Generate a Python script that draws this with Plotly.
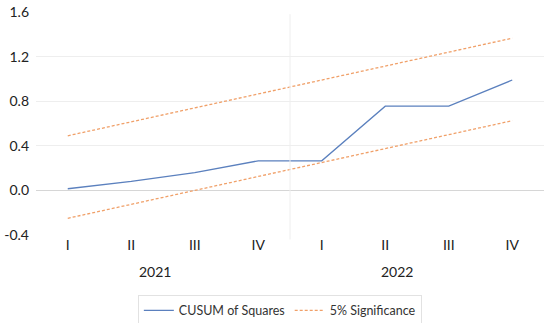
import plotly.graph_objects as go

quarters = ["I", "II", "III", "IV", "I ", "II ", "III ", "IV "]
quarter_labels = ["I", "II", "III", "IV", "I", "II", "III", "IV"]
years = ["2021", "2022"]
year_pos = [1.38, 5.19]
cusum = [0.015, 0.08, 0.16, 0.265, 0.265, 0.755, 0.755, 0.99]
upper = [0.49, 0.615, 0.74, 0.865, 0.99, 1.115, 1.24, 1.365]
lower = [-0.25, -0.125, 0.0, 0.125, 0.25, 0.375, 0.5, 0.625]
yticks = [-0.4, 0.0, 0.4, 0.8, 1.2, 1.6]

xs = list(range(len(quarters)))
FONT = "Lato"

fig = go.Figure()
fig.add_trace(go.Scatter(x=xs, y=cusum, mode="lines", name="CUSUM of Squares",
                         line=dict(color="#5B80BE", width=1.3)))
fig.add_trace(go.Scatter(x=xs, y=upper, mode="lines", name="5% Significance",
                         line=dict(color="#F0A069", width=1.3, dash="3px,2px")))
fig.add_trace(go.Scatter(x=xs, y=lower, mode="lines", name="5% Significance",
                         showlegend=False,
                         line=dict(color="#F0A069", width=1.3, dash="3px,2px")))

# year divider
fig.add_shape(type="line", xref="x", yref="paper", x0=3.5, x1=3.5, y0=-0.02, y1=0.99,
              line=dict(color="#EEEEEE", width=1))

for yr, p in zip(years, year_pos):
    fig.add_annotation(x=p, y=-0.165, xref="x", yref="paper", text=yr, showarrow=False,
                       font=dict(family=FONT, size=14, color="#222222"), yanchor="middle")

fig.update_layout(
    width=550, height=323,
    margin=dict(l=36, r=6, t=12, b=88, autoexpand=False),
    paper_bgcolor="white", plot_bgcolor="white",
    showlegend=True,
    legend=dict(orientation="h", x=0.48, xanchor="center", y=-0.268, yanchor="top",
                bordercolor="#E2E2E2", borderwidth=1,
                font=dict(family=FONT, size=12.5, color="#333333"),
                itemwidth=30, tracegroupgap=0),
    xaxis=dict(range=[-0.5, 7.5], tickmode="array", tickvals=xs, ticktext=quarter_labels,
               showgrid=False, zeroline=False, showline=False, ticks="",
               tickfont=dict(family=FONT, size=14, color="#222222")),
    yaxis=dict(range=[-0.4, 1.6], tickmode="array", tickvals=yticks,
               ticktext=["-0.4", "0.0", "0.4", "0.8", "1.2", "1.6"],
               showgrid=True, gridcolor="#EEEEEE", gridwidth=1,
               zeroline=True, zerolinecolor="#D6D6D6", zerolinewidth=1,
               showline=False, ticks="", ticklabelstandoff=6,
               tickfont=dict(family=FONT, size=14, color="#222222")),
)

fig.write_html("out.html", config={"displayModeBar": False},
               post_script="document.body.style.margin='0';document.body.style.overflow='hidden';")
